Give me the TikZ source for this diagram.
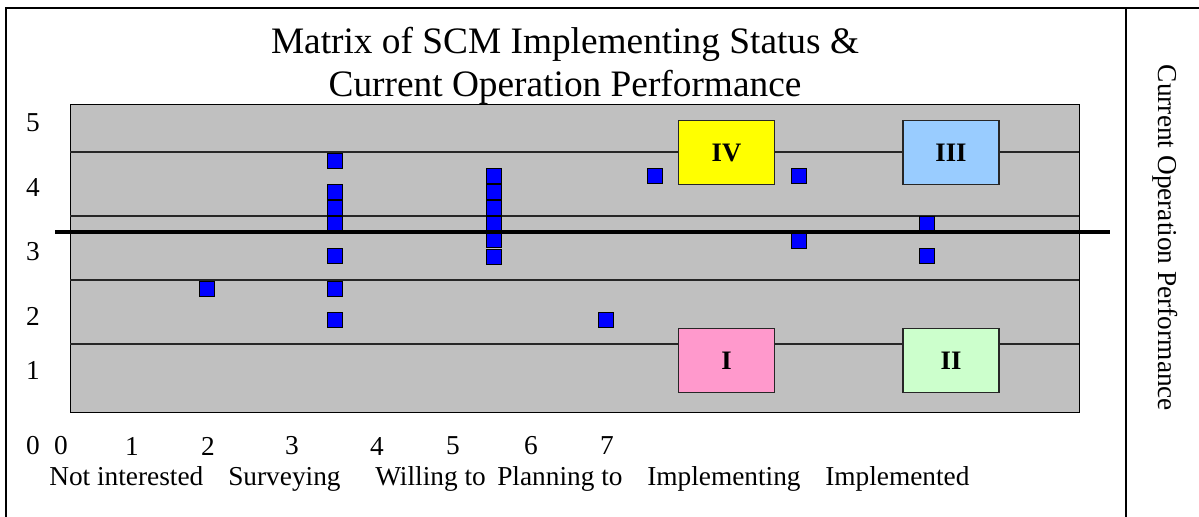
\documentclass[tikz,border=0pt]{standalone}
\usepackage{fontspec}
\setmainfont{Liberation Serif}
\definecolor{plotgray}{RGB}{192,192,192}
\definecolor{zoneI}{RGB}{255,153,204}
\definecolor{zoneII}{RGB}{204,255,204}
\definecolor{zoneIII}{RGB}{153,204,255}
\definecolor{zoneIV}{RGB}{255,255,0}
\definecolor{markblue}{RGB}{0,0,255}
\begin{document}
\begin{tikzpicture}[x=0.75pt,y=-0.75pt,
  frameline/.style={line width=1.2pt,black},
  gridline/.style={line width=0.9pt,black!85},
  marker/.style={draw=black,fill=markblue,line width=0.8pt,minimum size=11.2pt,inner sep=0pt},
  zone/.style={draw=black!85,line width=1pt,minimum width=72pt,minimum height=48pt,inner sep=0pt,font=\fontsize{20}{24}\selectfont\bfseries},
  axlabel/.style={font=\fontsize{20.5}{24}\selectfont,inner sep=0pt},
  catlabel/.style={font=\fontsize{20.5}{24}\selectfont,inner sep=0pt,anchor=base west}]
\useasboundingbox (0,0) rectangle (1199,517);
\fill[white] (0,0) rectangle (1199,517);

% outer frame
\coordinate (fTL) at (6,8);
\coordinate (fTR) at (1199,8);
\coordinate (fBL) at (6,517);
\coordinate (sTop) at (1126,8);
\coordinate (sBot) at (1126,517);
\draw[frameline] (fBL) -- (fTL) -- (fTR);
\draw[frameline] (sTop) -- (sBot);

% title
\node[font=\fontsize{28}{32}\selectfont,anchor=base,inner sep=0pt] (title1) at (565,54) {Matrix of SCM Implementing Status \&};
\node[font=\fontsize{28}{32}\selectfont,anchor=base,inner sep=0pt] (title2) at (565,97) {Current Operation Performance};

% plot area
\node[draw=black,line width=1pt,fill=plotgray,anchor=north west,minimum width=756.75pt,minimum height=231pt,inner sep=0pt] (plot) at (70,104) {};
\foreach \yy in {152,216,280,344}
  \draw[gridline] (70,\yy) -- (1079,\yy);

% quadrant boxes
\node[zone,fill=zoneIV]  (qIV)  at (726.5,152.5) {IV};
\node[zone,fill=zoneIII] (qIII) at (951,152.5) {III};
\node[zone,fill=zoneI]   (qI)   at (726.5,360.5) {I};
\node[zone,fill=zoneII]  (qII)  at (951,360.5) {II};

% survey responses
\node[marker] (m1) at (207,289) {};
\node[marker] (m2) at (335,161) {};
\node[marker] (m3) at (335,192) {};
\node[marker] (m4) at (335,208) {};
\node[marker] (m5) at (335,224) {};
\node[marker] (m6) at (335,256) {};
\node[marker] (m7) at (335,289) {};
\node[marker] (m8) at (335,320) {};
\node[marker] (m9) at (494,176) {};
\node[marker] (m10) at (494,192) {};
\node[marker] (m11) at (494,208) {};
\node[marker] (m12) at (494,224) {};
\node[marker] (m13) at (494,240) {};
\node[marker] (m14) at (494,257) {};
\node[marker] (m15) at (606,320) {};
\node[marker] (m16) at (655,176) {};
\node[marker] (m17) at (799,176) {};
\node[marker] (m18) at (799,241) {};
\node[marker] (m19) at (927,224) {};
\node[marker] (m20) at (927,256) {};

% average performance threshold
\coordinate (avgL) at (55,232);
\coordinate (avgR) at (1110,232);
\draw[line width=3.4pt,black] (avgL) -- (avgR);

% vertical axis values
\node[axlabel] (y5) at (33,123) {5};
\node[axlabel] (y4) at (33,188) {4};
\node[axlabel] (y3) at (33,252) {3};
\node[axlabel] (y2) at (33,316) {2};
\node[axlabel] (y1) at (33,370) {1};
\node[axlabel] (y0) at (33,446) {0};

% horizontal axis values
\foreach \v/\xx in {0/61,1/132,2/208,3/292,4/377,5/453,6/531,7/607}
  \node[axlabel] (x\v) at (\xx,446) {\v};

% implementation stages
\node[catlabel] (c1) at (49,485) {Not interested};
\node[catlabel] (c2) at (228,485) {Surveying};
\node[catlabel] (c3) at (375,485) {Willing to};
\node[catlabel] (c4) at (497,485) {Planning to};
\node[catlabel] (c5) at (647,485) {Implementing};
\node[catlabel] (c6) at (825,485) {Implemented};

% side caption
\node[font=\fontsize{20.5}{24}\selectfont,rotate=-90,anchor=base,inner sep=0pt] (side) at (1158,238) {Current Operation Performance};
\end{tikzpicture}
\end{document}
